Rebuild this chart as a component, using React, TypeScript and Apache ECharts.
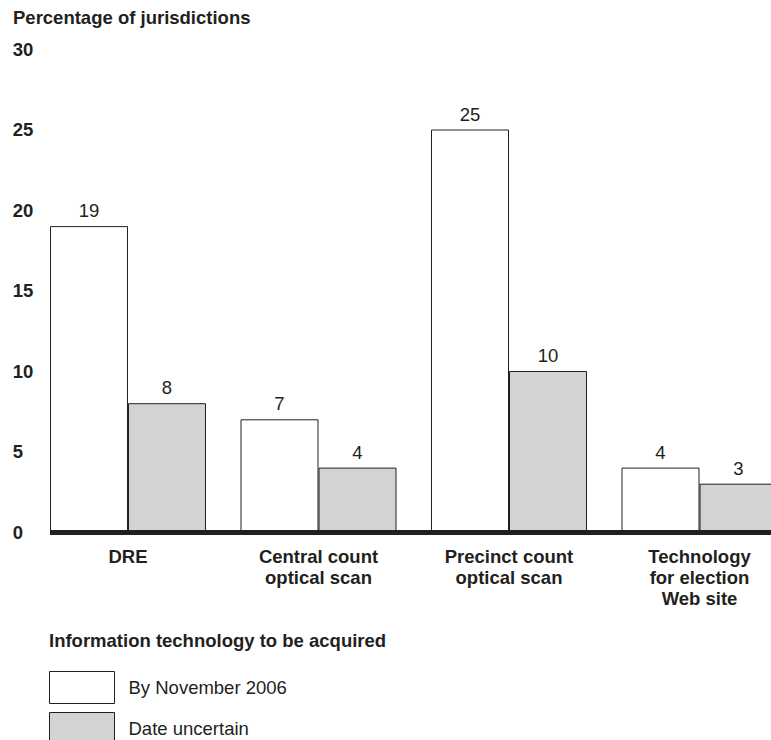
import React, { useEffect, useRef } from "react";
import * as echarts from "echarts";

const categories = [
  "DRE",
  "Central count\noptical scan",
  "Precinct count\noptical scan",
  "Technology\nfor election\nWeb site",
];
const byNov2006 = [19, 7, 25, 4];
const dateUncertain = [8, 4, 10, 3];
const seriesNames = ["By November 2006", "Date uncertain"];
const yTicks = { min: 0, max: 30, interval: 5 };

const FONT = "'Liberation Sans', Arial, Helvetica, sans-serif";
const INK = "#231f20";
const GRAY = "#d1d3d4";
const BAR_W = 78;
const FS = 18.5;

export default function App() {
  const ref = useRef<HTMLDivElement>(null);
  useEffect(() => {
    if (!ref.current) return;
    const chart = echarts.init(ref.current, null, { renderer: "svg" });
    const labelStyle = {
      show: true,
      position: "top" as const,
      distance: 6,
      fontFamily: FONT,
      fontSize: FS,
      color: INK,
    };
    chart.setOption({
      animation: false,
      textStyle: { fontFamily: FONT },
      grid: { left: 32.75, top: 49, width: 762, height: 483, containLabel: false },
      xAxis: {
        type: "category",
        data: categories,
        axisLine: { show: false },
        axisTick: { show: false },
        axisLabel: {
          margin: 14,
          fontFamily: FONT,
          fontSize: FS,
          fontWeight: "bold",
          color: INK,
          lineHeight: 21,
          align: "center",
        },
      },
      yAxis: {
        type: "value",
        min: yTicks.min,
        max: yTicks.max,
        interval: yTicks.interval,
        splitLine: { show: false },
        axisLine: { show: false },
        axisTick: { show: false },
        axisLabel: {
          align: "left",
          margin: 20,
          fontFamily: FONT,
          fontSize: FS,
          fontWeight: "bold",
          color: INK,
        },
      },
      legend: {
        orient: "vertical",
        left: 49,
        top: 671,
        padding: 0,
        itemWidth: 65,
        itemHeight: 32,
        itemGap: 8,
        icon: "rect",
        data: seriesNames,
        textStyle: {
          fontFamily: FONT,
          fontSize: FS,
          color: INK,
          padding: [6, 0, 0, 9],
        },
        itemStyle: { borderColor: INK, borderWidth: 1 },
      },
      series: [
        {
          name: seriesNames[0],
          type: "bar",
          data: byNov2006,
          barWidth: BAR_W,
          barGap: "0%",
          itemStyle: { color: "#ffffff", borderColor: INK, borderWidth: 1 },
          label: labelStyle,
        },
        {
          name: seriesNames[1],
          type: "bar",
          data: dateUncertain,
          barWidth: BAR_W,
          barGap: "0%",
          itemStyle: { color: GRAY, borderColor: INK, borderWidth: 1 },
          label: labelStyle,
        },
      ],
    });
    const y0 = chart.convertToPixel({ yAxisIndex: 0 }, 0) as number;
    const x0 = (chart.convertToPixel({ xAxisIndex: 0 }, categories[0]) as number) - BAR_W;
    chart.setOption({
      graphic: [
        {
          type: "line",
          shape: { x1: x0, y1: y0 + 0.5, x2: 830, y2: y0 + 0.5 },
          style: { stroke: INK, lineWidth: 5 },
          z: 10,
        },
        {
          type: "text",
          x: 13,
          y: 17,
          style: {
            text: "Percentage of jurisdictions",
            fontFamily: FONT,
            fontSize: FS,
            fontWeight: "bold",
            fill: INK,
            verticalAlign: "middle",
          },
        },
        {
          type: "text",
          x: 49,
          y: 640,
          style: {
            text: "Information technology to be acquired",
            fontFamily: FONT,
            fontSize: FS,
            fontWeight: "bold",
            fill: INK,
            verticalAlign: "middle",
          },
        },
      ],
    });
    return () => chart.dispose();
  }, []);
  return (
    <div
      style={{
        position: "fixed",
        left: 0,
        top: 0,
        width: 771,
        height: 740,
        overflow: "hidden",
        background: "#fff",
      }}
    >
      <div ref={ref} style={{ width: 830, height: 800 }} />
    </div>
  );
}
